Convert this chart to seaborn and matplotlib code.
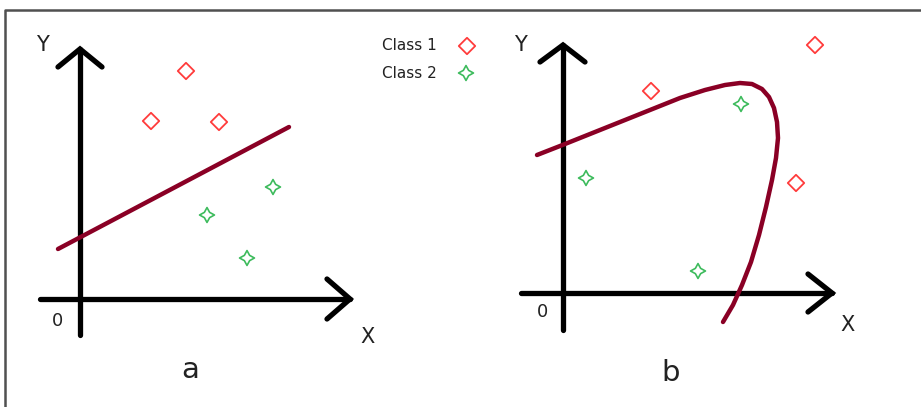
import matplotlib
matplotlib.use("Agg")
import matplotlib.pyplot as plt
import seaborn as sns
import pandas as pd
import numpy as np

sns.set_theme(style="white")
plt.rcParams['font.family'] = ['DejaVu Sans']

# ---- data (diagram units, y downward) ----
a_class1_x = [186, 151, 219]
a_class1_y = [71, 121, 122]
a_class2_x = [273, 207, 247]
a_class2_y = [187, 215, 258]
a_line_x = [58, 289]
a_line_y = [249, 127]

b_class1_x = [651, 815, 796]
b_class1_y = [91, 45, 183]
b_class2_x = [741, 586, 698]
b_class2_y = [104, 178, 271]
b_curve_x = [537, 560, 590, 620, 650, 680, 705, 725, 740, 752, 762, 769, 774, 777, 778,
             776, 772, 766, 759, 751, 742, 733, 723]
b_curve_y = [155, 146, 134, 122, 110, 98, 90, 85, 83, 84, 89, 97, 108, 122, 138,
             158, 180, 207, 235, 262, 285, 305, 322]

# axes arrows: shafts and chevrons
a_yaxis_x, a_yaxis_y = [80, 80], [335, 49]
a_yhead_x, a_yhead_y = [58, 80, 102], [67, 49, 67]
a_xaxis_x, a_xaxis_y = [40, 350], [299, 299]
a_xhead_x, a_xhead_y = [327, 350, 327], [279, 299, 319]
b_yaxis_x, b_yaxis_y = [563, 563], [330, 45]
b_yhead_x, b_yhead_y = [540, 563, 585], [62, 45, 62]
b_xaxis_x, b_xaxis_y = [521, 832], [293, 293]
b_xhead_x, b_xhead_y = [808, 832, 808], [274, 293, 312]

legend_labels = ["Class 1", "Class 2"]
legend_marker_x = [467, 466]
legend_marker_y = [46, 73]

RED = "#ff3b3b"
GREEN = "#3dbb5c"
MAROON = "#8a0025"

fig = plt.figure(figsize=(9.21, 4.07), dpi=100)
ax = fig.add_axes([0, 0, 1, 1])
ax.set_xlim(0, 921)
ax.set_ylim(407, 0)
ax.axis("off")

# frame
ax.plot([5, 5, 921], [407, 10, 10], color="#505050", lw=1.8, solid_capstyle="butt")

def seg(x, y, **kw):
    sns.lineplot(x=x, y=y, sort=False, estimator=None, ax=ax, **kw)

axis_kw = dict(color="black", lw=3.8, solid_joinstyle="miter")
for xs, ys in [(a_yaxis_x, a_yaxis_y), (a_yhead_x, a_yhead_y), (a_xaxis_x, a_xaxis_y),
               (a_xhead_x, a_xhead_y), (b_yaxis_x, b_yaxis_y), (b_yhead_x, b_yhead_y),
               (b_xaxis_x, b_xaxis_y), (b_xhead_x, b_xhead_y)]:
    seg(xs, ys, **axis_kw)

seg(a_line_x, a_line_y, color=MAROON, lw=3.2)
seg(b_curve_x, b_curve_y, color=MAROON, lw=3.2, solid_joinstyle="round")

star = (4, 1, 0)
sns.scatterplot(x=a_class1_x + b_class1_x + [legend_marker_x[0]],
                y=a_class1_y + b_class1_y + [legend_marker_y[0]],
                marker="D", s=70, facecolor="none", edgecolor=RED, linewidth=1.3, ax=ax, zorder=5)
sns.scatterplot(x=a_class2_x + b_class2_x + [legend_marker_x[1]],
                y=a_class2_y + b_class2_y + [legend_marker_y[1]],
                marker=star, s=115, facecolor="none", edgecolor=GREEN, linewidth=1.2, ax=ax, zorder=5)

for lab, my in zip(legend_labels, legend_marker_y):
    ax.text(382, my, lab, fontsize=11, va="center", ha="left", color="#222222")

tkw = dict(color="#222222", ha="center", va="center")
ax.text(42, 45, "Y", fontsize=15, **tkw)
ax.text(367, 337, "X", fontsize=15, **tkw)
ax.text(57, 321, "0", fontsize=13, **tkw)
ax.text(190, 370, "a", fontsize=21, **tkw)
ax.text(520, 45, "Y", fontsize=15, **tkw)
ax.text(847, 325, "X", fontsize=15, **tkw)
ax.text(542, 312, "0", fontsize=13, **tkw)
ax.text(671, 373, "b", fontsize=21, **tkw)

fig.savefig("out.png", dpi=100)
